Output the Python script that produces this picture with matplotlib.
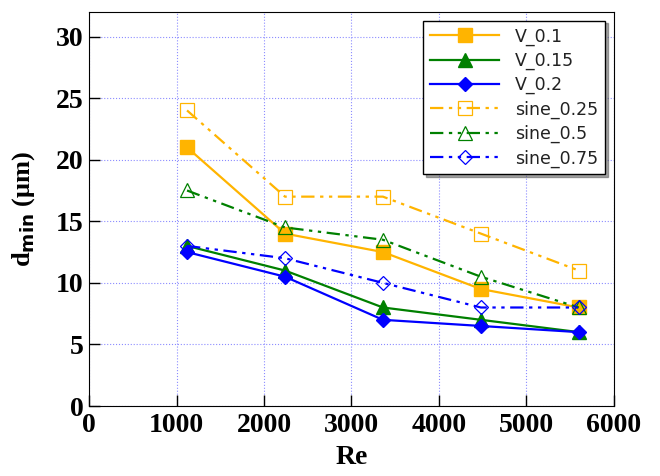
import matplotlib
matplotlib.use("Agg")
import matplotlib.pyplot as plt

re_vals = [1120, 2240, 3360, 4480, 5600]

v_01 = [21, 14, 12.5, 9.5, 8]
v_015 = [13, 11, 8, 7, 6]
v_02 = [12.5, 10.5, 7, 6.5, 6]
sine_025 = [24, 17, 17, 14, 11]
sine_05 = [17.5, 14.5, 13.5, 10.5, 8]
sine_075 = [13, 12, 10, 8, 8]

orange = "#FFB400"
green = "#008000"
blue = "#0000FF"
dashdotdot = (0, (6, 2.5, 1.5, 2.5, 1.5, 2.5))

fig = plt.figure(figsize=(6.6, 4.76), dpi=100)
ax = fig.add_axes([0.135, 0.147, 0.795, 0.828])

ax.plot(re_vals, v_01, color=orange, lw=1.6, marker="s", ms=9.5, label="V_0.1")
ax.plot(re_vals, v_015, color=green, lw=1.6, marker="^", ms=9.5, label="V_0.15")
ax.plot(re_vals, v_02, color=blue, lw=1.6, marker="D", ms=7.5, label="V_0.2")
ax.plot(re_vals, sine_025, color=orange, lw=1.6, ls=dashdotdot, marker="s", ms=9.5,
        mfc="none", mew=0.9, label="sine_0.25")
ax.plot(re_vals, sine_05, color=green, lw=1.6, ls=dashdotdot, marker="^", ms=9.5,
        mfc="none", mew=0.9, label="sine_0.5")
ax.plot(re_vals, sine_075, color=blue, lw=1.6, ls=dashdotdot, marker="D", ms=7.5,
        mfc="none", mew=0.9, label="sine_0.75")

ax.set_xlim(0, 6000)
ax.set_ylim(0, 32)
ax.set_xticks(range(0, 6001, 1000))
ax.set_yticks(range(0, 31, 5))
ax.grid(True, color="#8c8cff", ls=":", lw=0.8)
ax.tick_params(direction="in", length=8, width=1, labelsize=20)
ax.tick_params(axis="x", pad=5)
ax.tick_params(axis="y", pad=4)
for lbl in ax.get_xticklabels() + ax.get_yticklabels():
    lbl.set_fontfamily("Liberation Serif")
    lbl.set_fontweight("bold")

ax.set_xlabel("Re", fontsize=20, fontfamily="Liberation Serif", fontweight="bold")
ax.xaxis.set_label_coords(0.5, -0.1)
ax.set_ylabel(r"d$_{\mathbf{min}}$ (μm)", fontsize=19, fontfamily="Liberation Serif",
              fontweight="bold")
ax.yaxis.set_label_coords(-0.1, 0.5)

leg = ax.legend(loc="upper right", fontsize=12.5, fancybox=False, shadow=True,
                edgecolor="black", framealpha=1, handlelength=4.0,
                borderaxespad=0.5, labelspacing=0.35, handletextpad=0.9)
leg.get_frame().set_linewidth(1.0)
for t in leg.get_texts():
    t.set_color("#222222")

fig.savefig("out.png", dpi=100)
